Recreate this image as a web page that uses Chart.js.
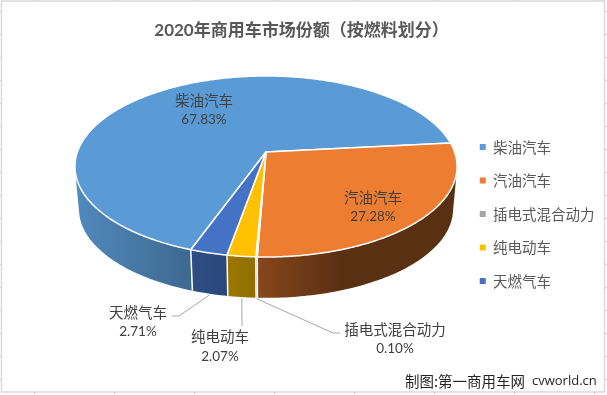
<!DOCTYPE html>
<html>
<head>
<meta charset="utf-8">
<style>
  html, body { margin: 0; padding: 0; background: #fff; }
  canvas { display: block; }
</style>
<script src="https://cdn.jsdelivr.net/npm/chart.js@4"></script>
</head>
<body>
<canvas id="pieChart" width="607" height="395"></canvas>
<script>
// Chart data
const categories = ['柴油汽车', '汽油汽车', '插电式混合动力', '纯电动车', '天燃气车'];
const shares = [67.83, 27.28, 0.10, 2.07, 2.71];
const shareLabels = ['67.83%', '27.28%', '0.10%', '2.07%', '2.71%'];
const sliceColors = ['#5B9BD5', '#ED7D31', '#A5A5A5', '#FFC000', '#4472C4'];

const cjkFont = '"Noto Sans CJK SC"';

// Perspective of the tilted pie: top face and bottom face
const tilt = 0.16;
const topFace = { cx: 266, cy: 152, a: 188.6, k: 88.2 };
const bottomFace = { cx: 266, cy: 195, a: 184.6, k: 86.4 };

function project(face, angle) {
    const u = Math.cos(angle), v = Math.sin(angle);
    const w = 1 - tilt * v;
    return { x: face.cx + face.a * u / w, y: face.cy + face.k * v / w };
}

// Wall shading gets darker from left to right
const shadeStops = [[80, 0.88], [190, 0.68], [260, 0.56], [340, 0.38]];

function shadeColor(hex, f) {
    const n = parseInt(hex.slice(1), 16);
    return `rgb(${Math.round((n >> 16) * f)}, ${Math.round(((n >> 8) & 255) * f)}, ${Math.round((n & 255) * f)})`;
}

function wallGradient(ctx, color) {
    const g = ctx.createLinearGradient(0, 0, 607, 0);
    shadeStops.forEach(s => g.addColorStop(s[0] / 607, shadeColor(color, s[1])));
    return g;
}

const STEP = Math.PI / 180;

// All strips go in one path, turned the same way round, so no seams show between them
function drawWall(ctx, start, end, color) {
    ctx.beginPath();
    for (let a = start; a < end; a += STEP) {
        const b = Math.min(a + STEP, end);
        if (Math.sin(a) < -0.2 && Math.sin(b) < -0.2) continue;
        const q = [project(topFace, a), project(topFace, b), project(bottomFace, b), project(bottomFace, a)];
        let area = 0;
        q.forEach((p, i) => {
            const n = q[(i + 1) % 4];
            area += p.x * n.y - n.x * p.y;
        });
        if (area < 0) q.reverse();
        ctx.moveTo(q[0].x, q[0].y);
        ctx.lineTo(q[1].x, q[1].y);
        ctx.lineTo(q[2].x, q[2].y);
        ctx.lineTo(q[3].x, q[3].y);
        ctx.closePath();
    }
    ctx.fillStyle = wallGradient(ctx, color);
    ctx.fill();
}

function drawTop(ctx, start, end, color) {
    ctx.beginPath();
    ctx.moveTo(topFace.cx, topFace.cy);
    for (let a = start; a < end; a += STEP / 2) {
        const p = project(topFace, a);
        ctx.lineTo(p.x, p.y);
    }
    const last = project(topFace, end);
    ctx.lineTo(last.x, last.y);
    ctx.closePath();
    ctx.fillStyle = color;
    ctx.fill();
    ctx.strokeStyle = '#fff';
    ctx.lineWidth = 1.5;
    ctx.lineJoin = 'round';
    ctx.stroke();
}

// Where the text of each slice goes; elbow is for the slices with a leader line
const labelLayout = [
    { x: 204, nameY: 100, valueY: 120 },
    { x: 373, nameY: 197, valueY: 217 },
    { x: 395, nameY: 329, valueY: 349, elbow: [[333, 333], [340, 333]] },
    { x: 220, nameY: 336, valueY: 357, elbow: [[242, 326]] },
    { x: 138, nameY: 312, valueY: 332, elbow: [[179, 316], [172, 316]] }
];

const framePlugin = {
    id: 'frame',
    beforeDraw(chart) {
        const ctx = chart.ctx;
        ctx.save();
        ctx.fillStyle = '#fff';
        ctx.fillRect(0, 0, 607, 395);
        ctx.strokeStyle = '#d9d9d9';
        ctx.lineWidth = 1.5;
        // spreadsheet cell lines peeking out around the chart
        ctx.beginPath();
        for (let x = 34; x < 607; x += 80) {
            ctx.moveTo(x + 0.5, 0);
            ctx.lineTo(x + 0.5, 2);
            ctx.moveTo(x + 0.5, 392);
            ctx.lineTo(x + 0.5, 395);
        }
        for (let y = 11; y < 392; y += 23) {
            ctx.moveTo(0, y + 0.5);
            ctx.lineTo(2, y + 0.5);
            ctx.moveTo(604, y + 0.5);
            ctx.lineTo(607, y + 0.5);
        }
        ctx.stroke();
        ctx.strokeRect(1.5, 1, 603, 391);
        ctx.restore();
    }
};

const pie3dPlugin = {
    id: 'pie3d',
    afterLayout(chart) {
        // legend sits closer to the right edge than its padding allows
        chart.legend.left = 460.75;
        chart.legend.top = 120.75;
    },
    beforeDatasetsDraw(chart) {
        const ctx = chart.ctx;
        const arcs = chart.getDatasetMeta(0).data;
        ctx.save();
        arcs.forEach((arc, i) => drawWall(ctx, arc.startAngle, arc.endAngle, sliceColors[i]));
        // white seams on the front wall
        ctx.strokeStyle = '#fff';
        ctx.lineWidth = 1.5;
        arcs.forEach(arc => {
            if (Math.sin(arc.startAngle) < 0) return;
            const a = project(topFace, arc.startAngle), b = project(bottomFace, arc.startAngle);
            ctx.beginPath();
            ctx.moveTo(a.x, a.y);
            ctx.lineTo(b.x, b.y);
            ctx.stroke();
        });
        arcs.forEach((arc, i) => drawTop(ctx, arc.startAngle, arc.endAngle, sliceColors[i]));
        ctx.restore();
        return false;
    },
    // afterDatasetsDraw does not fire once the hook above cancels the default arcs
    afterDraw(chart) {
        const ctx = chart.ctx;
        const arcs = chart.getDatasetMeta(0).data;
        ctx.save();
        ctx.textAlign = 'center';
        ctx.textBaseline = 'middle';
        labelLayout.forEach((label, i) => {
            if (label.elbow) {
                const mid = (arcs[i].startAngle + arcs[i].endAngle) / 2;
                const from = project(bottomFace, mid);
                ctx.beginPath();
                ctx.moveTo(from.x, from.y + 1);
                label.elbow.forEach(p => ctx.lineTo(p[0], p[1]));
                ctx.strokeStyle = '#a6a6a6';
                ctx.lineWidth = 1;
                ctx.stroke();
            }
            ctx.fillStyle = '#404040';
            ctx.font = `14.5px ${cjkFont}`;
            ctx.fillText(categories[i], label.x, label.nameY);
            ctx.font = '13.5px Lato';
            ctx.fillText(shareLabels[i], label.x, label.valueY);
        });
        // credit line at the bottom right
        ctx.textAlign = 'left';
        ctx.fillStyle = '#262626';
        ctx.font = `14.5px ${cjkFont}`;
        ctx.fillText('制图:第一商用车网', 405, 381);
        ctx.font = '13px "Open Sans"';
        ctx.fillText('cvworld.cn', 532, 381);
        ctx.restore();
    }
};

new Chart(document.getElementById('pieChart'), {
    type: 'pie',
    data: {
        labels: categories,
        datasets: [{
            data: shares,
            backgroundColor: sliceColors,
            borderWidth: 0
        }]
    },
    plugins: [framePlugin, pie3dPlugin],
    options: {
        responsive: false,
        animation: false,
        rotation: 199.8,
        layout: { padding: { right: 4 } },
        plugins: {
            tooltip: { enabled: false },
            title: {
                display: true,
                text: '2020年商用车市场份额（按燃料划分）',
                color: '#595959',
                font: { family: `Lato, ${cjkFont}`, size: 17, weight: 'bold' },
                padding: { top: 20, bottom: 10 }
            },
            legend: {
                position: 'right',
                align: 'start',
                labels: {
                    boxWidth: 6,
                    boxHeight: 6,
                    padding: 19,
                    color: '#595959',
                    font: { family: cjkFont, size: 14.5 }
                }
            }
        }
    }
});
</script>
</body>
</html>
